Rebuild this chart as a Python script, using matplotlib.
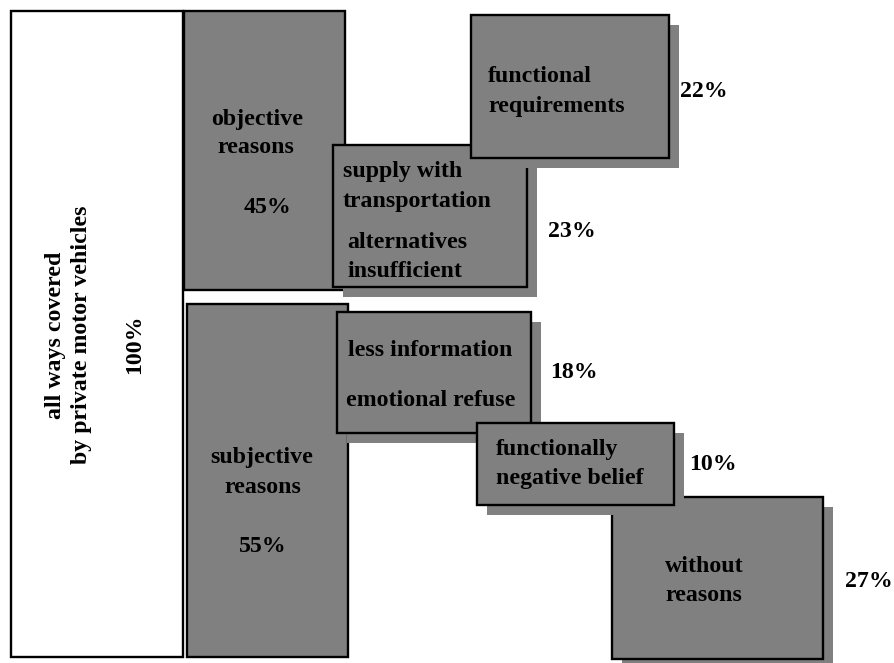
import matplotlib
matplotlib.use("Agg")
import matplotlib.pyplot as plt
from matplotlib.patches import Rectangle

# ---- data ----
total_label = ["all ways covered", "by private motor vehicles"]
total_pct = "100%"

main_labels = [["objective", "reasons"], ["subjective", "reasons"]]
main_pcts = ["45%", "55%"]

sub_labels = [
    ["functional", "requirements"],
    ["supply with", "transportation", "alternatives", "insufficient"],
    ["less information", "emotional refuse"],
    ["functionally", "negative belief"],
    ["without", "reasons"],
]
sub_pcts = ["22%", "23%", "18%", "10%", "27%"]

# ---- layout (pixel coordinates, y downward) ----
W, H = 894, 663
GREY = "#808080"
FONT = dict(family="Liberation Serif", fontweight="bold", fontsize=17.2, color="black")
SH = 10  # shadow offset

fig = plt.figure(figsize=(W / 100, H / 100), dpi=100)
ax = fig.add_axes([0, 0, 1, 1])
ax.set_xlim(0, W)
ax.set_ylim(H, 0)
ax.axis("off")


def box(x0, y0, x1, y1, fc=GREY, shadow=True, z=1):
    if shadow:
        ax.add_patch(Rectangle((x0 + SH, y0 + SH), x1 - x0, y1 - y0,
                               facecolor=GREY, edgecolor="none", zorder=z))
    ax.add_patch(Rectangle((x0, y0), x1 - x0, y1 - y0, facecolor=fc,
                           edgecolor="black", linewidth=1.7, zorder=z + 0.1))


# total box
box(11, 11, 183, 657, fc="white", shadow=False, z=1)
ax.text(55, 335, total_label[0], rotation=90, ha="center", va="center", zorder=10, **FONT)
ax.text(82, 335, total_label[1], rotation=90, ha="center", va="center", zorder=10, **FONT)
ax.text(135, 344, total_pct, rotation=90, ha="center", va="center", zorder=10, **FONT)

# main boxes
box(184, 11, 345, 290, shadow=False, z=1)
box(187, 304, 348, 657, shadow=False, z=1)
main_text = [((257, 256), (125, 153), (268, 213)),
             ((262, 263), (463, 493), (263, 552))]
for lab, pct, (xs, ys, pp) in zip(main_labels, main_pcts, main_text):
    for t, x, y in zip(lab, xs, ys):
        ax.text(x, y, t, ha="center", va="baseline", zorder=10, **FONT)
    ax.text(pp[0], pp[1], pct, ha="center", va="baseline", zorder=10, **FONT)

# sub boxes (draw order matters)
sub_boxes = [(471, 15, 669, 158), (333, 145, 527, 287), (337, 312, 531, 433),
             (477, 423, 674, 505), (612, 497, 823, 659)]
sub_z = [4, 3, 5, 7, 6]
sub_text = [
    [(488, 82, "left"), (488, 112, "left")],
    [(343, 177, "left"), (343, 207, "left"), (347, 248, "left"), (347, 277, "left")],
    [(348, 356, "left"), (346, 406, "left")],
    [(496, 455, "left"), (496, 484, "left")],
    [(704, 572, "center"), (704, 601, "center")],
]
pct_pos = [(704, 97), (572, 237), (574, 378), (713, 470), (869, 587)]

for b, z, lab, tp, pct, pp in zip(sub_boxes, sub_z, sub_labels, sub_text, sub_pcts, pct_pos):
    box(*b, z=z)
    for t, (x, y, ha) in zip(lab, tp):
        ax.text(x, y, t, ha=ha, va="baseline", zorder=z + 0.5, **FONT)
    ax.text(pp[0], pp[1], pct, ha="center", va="baseline", zorder=10, **FONT)

fig.savefig("out.png", dpi=100, facecolor="white")
